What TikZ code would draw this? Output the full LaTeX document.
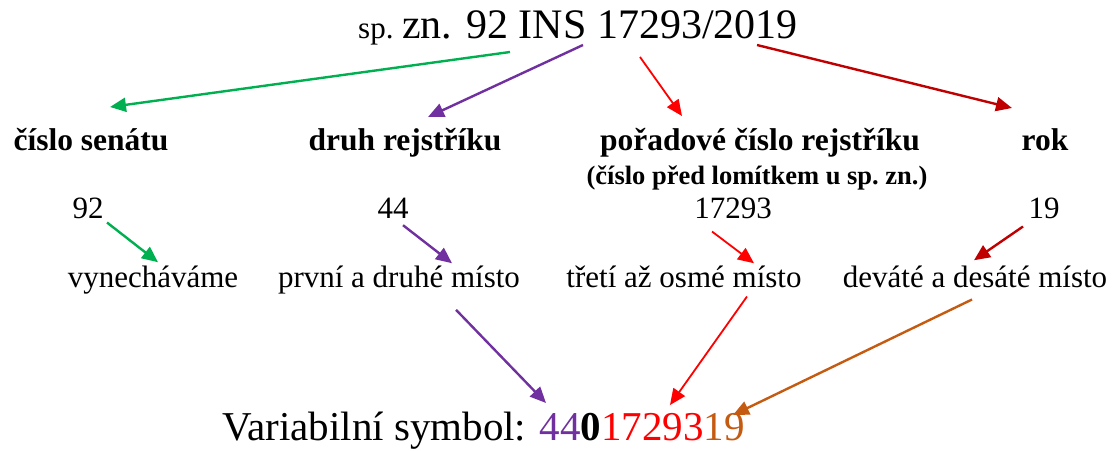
\documentclass[tikz,border=0pt]{standalone}
\usepackage{fontspec}
\setmainfont{LiberationSerif}[Extension=.ttf, UprightFont=*-Regular, BoldFont=*-Bold, ItalicFont=*-Italic, BoldItalicFont=*-BoldItalic]
\usepackage{tikz}
\usetikzlibrary{arrows.meta,calc,positioning}

\definecolor{vsgreen}{HTML}{00B050}
\definecolor{vspurple}{HTML}{7030A0}
\definecolor{vsred}{HTML}{FF0000}
\definecolor{vsdarkred}{HTML}{C00000}
\definecolor{vsorange}{HTML}{C55A11}

\tikzset{
	arr/.style={-{Triangle[length=16pt,width=14pt]}, line width=2.4pt},
	head/.style={font=\fontsize{31.5}{33}\selectfont\bfseries, anchor=base, inner sep=0pt},
	txt/.style={font=\fontsize{31}{33}\selectfont, anchor=base, inner sep=0pt},
}

\begin{document}
\begin{tikzpicture}[x=1pt,y=-1pt]
		\useasboundingbox (0,0) rectangle (1116,450);
		
		% spisova znacka
		\node[anchor=base west, inner sep=0pt, font=\fontsize{31}{33}\selectfont] (sp) at (358,38) {sp.};
		\node[anchor=base west, inner sep=0pt, font=\fontsize{42}{44}\selectfont] (szn) at (402,38) {zn. 92 INS 17293/2019};
		
		% popisky
		\node[head] (senat) at (91,150) {číslo senátu};
		\node[head] (druh) at (405,150) {druh rejstříku};
		\node[head] (poradi) at (760,150) {pořadové číslo rejstříku};
		\node[head, font=\fontsize{26.5}{28}\selectfont\bfseries] (poznamka) at (757,184) {(číslo před lomítkem u sp.~zn.)};
		\node[head] (rok) at (1045,150) {rok};
		
		% cisla
		\node[txt] (n92) at (88,218) {92};
		\node[txt] (n44) at (393,218) {44};
		\node[txt] (n17293) at (733,218) {17293};
		\node[txt] (n19) at (1044,218) {19};
		
		% mista
		\node[txt] (vynech) at (153,287) {vynecháváme};
		\node[txt] (prvni) at (399,287) {první a druhé místo};
		\node[txt] (treti) at (684,287) {třetí až osmé místo};
		\node[txt] (devate) at (975,287) {deváté a desáté místo};
		
		% vysledek
		\node[anchor=base west, inner sep=0pt, font=\fontsize{41}{43}\selectfont] (vs) at (222,440)
		{Variabilní symbol: \textcolor{vspurple}{44}\textbf{0}\textcolor{vsred}{17293}\textcolor{vsorange}{19}};
		
		\coordinate (a92) at (510,52);
		\coordinate (aINS) at (583,45);
		\coordinate (a17293) at (640,57);
		\coordinate (a2019) at (757,45);
		\coordinate (tSenat) at (110,107);
		\coordinate (tDruh) at (428,117);
		\coordinate (tPoradi) at (682,116);
		\coordinate (tRok) at (1012,108);
		
		\draw[arr, vsgreen] (a92) -- (tSenat);
		\draw[arr, vspurple] (aINS) -- (tDruh);
		\draw[arr, vsred, line width=1.8pt] (a17293) -- (tPoradi);
		\draw[arr, vsdarkred] (a2019) -- (tRok);
		
		\draw[arr, vsgreen] ($(n92.south)+(19,4)$) -- ($(vynech.north)+(5,-3)$);
		\draw[arr, vspurple] ($(n44.south)+(10,7)$) -- ($(prvni.north)+(53,-2)$);
		\draw[arr, vsred, line width=1.8pt] ($(n17293.south)+(-21,13)$) -- ($(treti.north)+(70,-2)$);
		\draw[arr, vsdarkred] ($(n19.south)+(-21,8)$) -- ($(devate.north)+(-1,-5)$);
		
		\coordinate (vs44) at (546,403);
		\coordinate (vs17293) at (670,405);
		\coordinate (vs19) at (733,415);
		\draw[arr, vspurple] ($(prvni.south)+(57,16)$) -- (vs44);
		\draw[arr, vsred, line width=1.8pt] ($(treti.south)+(63,9)$) -- (vs17293);
		\draw[arr, vsorange] ($(devate.south)+(-3,12)$) -- (vs19);
\end{tikzpicture}
\end{document}
